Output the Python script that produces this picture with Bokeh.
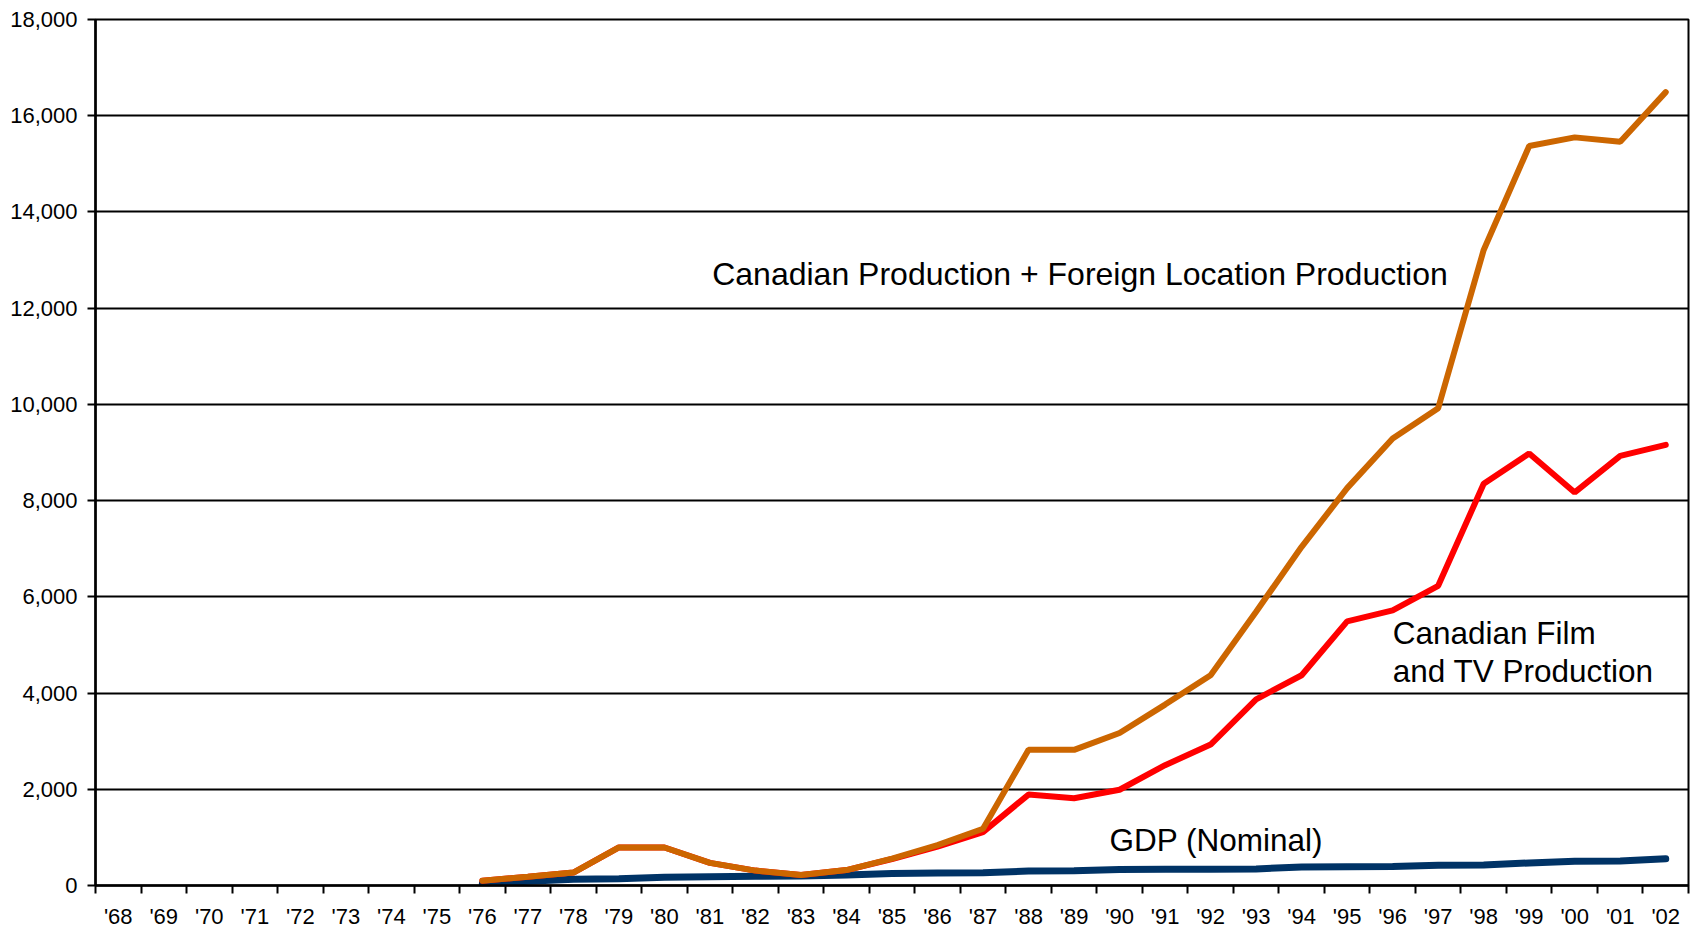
from bokeh.plotting import figure
from bokeh.models import Range1d, FixedTicker, NumeralTickFormatter, Label, ColumnDataSource
from bokeh.embed import file_html
from bokeh.resources import INLINE

# ---------------- data ----------------
years = ["'68", "'69", "'70", "'71", "'72", "'73", "'74", "'75", "'76", "'77", "'78", "'79",
         "'80", "'81", "'82", "'83", "'84", "'85", "'86", "'87", "'88", "'89", "'90", "'91",
         "'92", "'93", "'94", "'95", "'96", "'97", "'98", "'99", "'00", "'01", "'02"]
series_start = "'76"

total_production = [100, 180, 270, 790, 790, 470, 310, 220, 320, 560, 840, 1180, 2820, 2820,
                    3170, 3760, 4370, 5690, 7040, 8260, 9290, 9920, 13210, 15370, 15550,
                    15460, 16490]
canadian_production = [100, 180, 270, 790, 790, 470, 310, 220, 320, 550, 810, 1110, 1890, 1815,
                        1990, 2500, 2930, 3870, 4370, 5490, 5720, 6230, 8350, 8980, 8170,
                        8930, 9160]
gdp_nominal = [40, 90, 130, 140, 170, 180, 190, 200, 220, 250, 260, 265, 300, 305, 335, 340,
               340, 345, 385, 390, 395, 420, 425, 470, 505, 510, 555]

y_ticks = list(range(0, 18001, 2000))

FONT = "Liberation Sans"

start = years.index(series_start)
xs = [start + i + 0.5 for i in range(len(total_production))]

p = figure(width=1696, height=932, output_backend="svg", toolbar_location=None,
           x_range=Range1d(0, len(years)), y_range=Range1d(0, 18000),
           min_border_left=95, min_border_right=8, min_border_top=19, min_border_bottom=47)

p.background_fill_color = "white"
p.border_fill_color = "white"
p.outline_line_color = "black"
p.outline_line_width = 2

# grid
p.xgrid.visible = False
p.ygrid.ticker = FixedTicker(ticks=y_ticks)
p.ygrid.grid_line_color = "black"
p.ygrid.grid_line_width = 2

# y axis
p.yaxis.ticker = FixedTicker(ticks=y_ticks)
p.yaxis.formatter = NumeralTickFormatter(format="0,0")
p.yaxis.axis_line_width = 2.5
p.yaxis.axis_line_color = "black"
p.yaxis.major_tick_out = 8
p.yaxis.major_tick_in = 0
p.yaxis.major_tick_line_width = 2
p.yaxis.minor_tick_line_color = None
p.yaxis.major_label_text_font = FONT
p.yaxis.major_label_text_font_size = "22px"
p.yaxis.major_label_text_color = "black"
p.yaxis.major_label_standoff = 10

# x axis: labels at category centres, ticks at boundaries
centers = [i + 0.5 for i in range(len(years))]
p.xaxis.ticker = FixedTicker(ticks=centers, minor_ticks=list(range(len(years) + 1)))
p.xaxis.major_label_overrides = {c: y for c, y in zip(centers, years)}
p.xaxis.axis_line_width = 2.5
p.xaxis.axis_line_color = "black"
p.xaxis.major_tick_out = 0
p.xaxis.major_tick_in = 0
p.xaxis.minor_tick_out = 8
p.xaxis.minor_tick_in = 0
p.xaxis.minor_tick_line_color = "black"
p.xaxis.minor_tick_line_width = 2
p.xaxis.major_label_text_font = FONT
p.xaxis.major_label_text_font_size = "22px"
p.xaxis.major_label_text_color = "black"
p.xaxis.major_label_standoff = 10

src = ColumnDataSource(dict(x=xs, total=total_production, canadian=canadian_production,
                            gdp=gdp_nominal))

p.line("x", "gdp", source=src, line_color="#003366", line_width=7, line_cap="round")
p.line("x", "canadian", source=src, line_color="#FF0000", line_width=6, line_cap="round")
p.line("x", "total", source=src, line_color="#CC6600", line_width=6, line_cap="round")

def lab(text, x, y, size):
    p.add_layout(Label(x=x, y=y, text=text, text_font=FONT, text_font_size=size,
                       text_color="black", text_baseline="alphabetic", text_align="left"))

lab("Canadian Production + Foreign Location Production", 13.55, 12720, "32px")
lab("Canadian Film", 28.5, 5240, "31.5px")
lab("and TV Production", 28.5, 4450, "31.5px")
lab("GDP (Nominal)", 22.28, 950, "31.5px")

open("out.html", "w").write(file_html(p, INLINE))
